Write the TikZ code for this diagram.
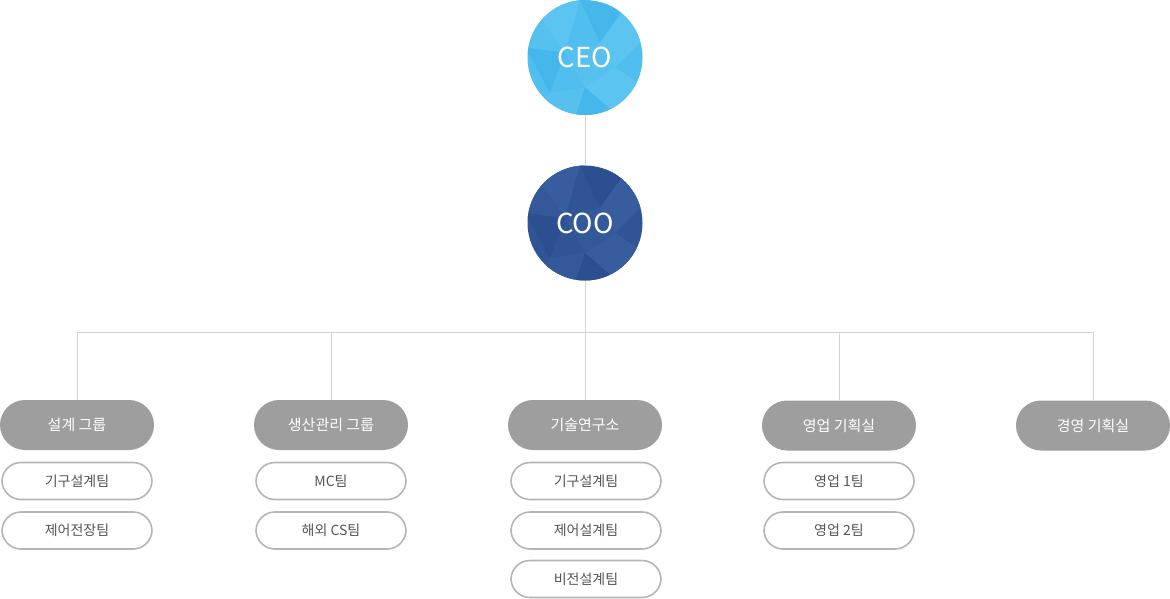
\documentclass[tikz,border=0pt]{standalone}
\usepackage{fontspec}
\setmainfont{Noto Sans CJK KR}
\newfontfamily\krfont{Noto Sans CJK KR}
\definecolor{ceobase}{HTML}{50BEEE}
\definecolor{ceolight}{HTML}{5CC4F1}
\definecolor{ceodark}{HTML}{45B7EB}
\definecolor{coobase}{HTML}{2F5597}
\definecolor{coolight}{HTML}{375D9F}
\definecolor{coodark}{HTML}{2B4F8F}
\definecolor{grpgray}{HTML}{9E9E9E}
\definecolor{subborder}{HTML}{B5B5B5}
\definecolor{subtext}{HTML}{555555}
\definecolor{linegray}{HTML}{D2D2D2}
\tikzset{
  exec/.style={circle, minimum size=115pt, inner sep=0pt, text=white, font=\krfont\fontsize{27.5}{30}\selectfont},
  grp/.style={rounded corners=25pt, fill=grpgray, minimum width=154pt, minimum height=50pt, inner sep=0pt, text=white, font=\krfont\fontsize{15}{18}\selectfont},
  sub/.style={rounded corners=19pt, draw=subborder, line width=1.6pt, fill=white, minimum width=150pt, minimum height=37pt, inner sep=0pt, text=subtext, font=\krfont\fontsize{14}{17}\selectfont},
  conn/.style={draw=linegray, line width=0.9pt}
}
\newcommand{\facets}[3]{%
  \begin{scope}
    \clip (0,0) circle (57.5);
    \fill[#1] (-60,-60) -- (-5,-58) -- (-20,-5) -- cycle;
    \fill[#2] (-5,-58) -- (40,-50) -- (15,-15) -- cycle;
    \fill[#1] (40,-50) -- (60,-20) -- (30,10) -- (15,-15) -- cycle;
    \fill[#3] (-20,-5) -- (15,-15) -- (30,10) -- (0,30) -- cycle;
    \fill[#2] (-60,-10) -- (-20,-5) -- (-35,35) -- cycle;
    \fill[#1] (30,10) -- (60,30) -- (35,60) -- (0,30) -- cycle;
    \fill[#3] (-35,35) -- (0,30) -- (-10,60) -- (-50,60) -- cycle;
    \fill[#2] (0,30) -- (35,60) -- (-10,60) -- cycle;
    \fill[#3] (-60,-60) -- (-20,-5) -- (-60,-10) -- cycle;
  \end{scope}}
\begin{document}
\begin{tikzpicture}[x=1pt,y=-1pt]
\useasboundingbox (0,0) rectangle (1170,599);
% circles
\node[exec, fill=ceobase] (ceo) at (585,57.5) {};
\begin{scope}[shift={(585,57.5)}]\facets{ceolight}{ceodark}{ceolight!50!ceobase}\end{scope}
\node[exec] at (585,57.5) {CEO};
\node[exec, fill=coobase] (coo) at (585,223) {};
\begin{scope}[shift={(585,223)}]\facets{coolight}{coodark}{coolight!50!coobase}\end{scope}
\node[exec] at (585,223) {COO};
% groups
\node[grp] (g1) at (77,425) {설계 그룹};
\node[grp] (g2) at (331,425) {생산관리 그룹};
\node[grp] (g3) at (585,425) {기술연구소};
\node[grp] (g4) at (839,425.5) {영업 기획실};
\node[grp] (g5) at (1093,425.5) {경영 기획실};
% bus
\coordinate (bus) at (585,332);
\coordinate (b1) at (77,332);
\coordinate (b2) at (331,332);
\coordinate (b4) at (839,332);
\coordinate (b5) at (1093,332);
\draw[conn] (ceo.south) -- (coo.north);
\draw[conn] (coo.south) -- (bus);
\draw[conn] (b1) -- (b5);
\draw[conn] (b1) -- (g1.north);
\draw[conn] (b2) -- (g2.north);
\draw[conn] (bus) -- (g3.north);
\draw[conn] (b4) -- (g4.north);
\draw[conn] (b5) -- (g5.north);
% sub teams
\node[sub] (s11) at (77,481) {기구설계팀};
\node[sub] (s12) at (77,530.5) {제어전장팀};
\node[sub] (s21) at (331,481) {MC팀};
\node[sub] (s22) at (331,530.5) {해외 CS팀};
\node[sub] (s31) at (586,481) {기구설계팀};
\node[sub] (s32) at (586,530.5) {제어설계팀};
\node[sub] (s33) at (586,579) {비전설계팀};
\node[sub] (s41) at (839,481) {영업 1팀};
\node[sub] (s42) at (839,530.5) {영업 2팀};
\end{tikzpicture}
\end{document}
